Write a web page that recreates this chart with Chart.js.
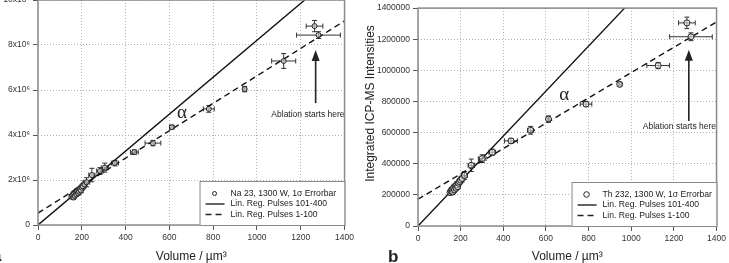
<!DOCTYPE html>
<html>
<head>
<meta charset="utf-8">
<script src="https://cdn.jsdelivr.net/npm/chart.js@4/dist/chart.umd.min.js"></script>
<style>
  body { margin: 0; width: 729px; height: 263px; background: #fff; overflow: hidden; position: relative; }
  #boxA { position: absolute; left: 0; top: -12px; width: 357px; height: 275px; }
  #boxB { position: absolute; left: 360px; top: 0; width: 369px; height: 263px; }
  .tag { position: absolute; font: bold 17px "Liberation Sans", Arial, sans-serif; line-height: 17px; color: #222; }
</style>
</head>
<body>
<div id="boxA"><canvas id="chartA"></canvas></div>
<div id="boxB"><canvas id="chartB"></canvas></div>
<div class="tag" style="left:-8px; top:247px">a</div>
<div class="tag" style="left:388px; top:248px">b</div>
<script>
// PANEL A : NA 23 
const naVolume       = [152, 158, 162, 165, 168, 172, 175, 178, 182, 185, 188, 192, 196, 200, 205, 212, 222, 246, 283, 305, 351, 440, 525, 611, 780, 944, 1122, 1263, 1281];
const naIntensity    = [1.26e6, 1.32e6, 1.22e6, 1.40e6, 1.30e6, 1.45e6, 1.36e6, 1.50e6, 1.42e6, 1.55e6, 1.48e6, 1.60e6, 1.53e6, 1.66e6, 1.72e6, 1.80e6, 1.90e6, 2.22e6, 2.40e6, 2.55e6, 2.75e6, 3.24e6, 3.64e6, 4.35e6, 5.16e6, 6.04e6, 7.29e6, 8.84e6, 8.44e6];
const naVolumeErr    = [8, 10, 8, 10, 8, 10, 8, 10, 10, 10, 8, 10, 10, 12, 12, 12, 14, 14, 15, 16, 16, 18, 36, 10, 25, 8, 55, 38, 100];
const naIntensityErr = [0.08e6, 0.1e6, 0.08e6, 0.1e6, 0.1e6, 0.1e6, 0.08e6, 0.12e6, 0.1e6, 0.1e6, 0.1e6, 0.12e6, 0.1e6, 0.12e6, 0.12e6, 0.15e6, 0.2e6, 0.3e6, 0.15e6, 0.2e6, 0.12e6, 0.1e6, 0.12e6, 0.08e6, 0.15e6, 0.12e6, 0.33e6, 0.25e6, 0.15e6];
// REGRESSION LINE END POINTS
const naFitLateX  = [0, 1218];
const naFitLateY  = [0, 10000000];
const naFitEarlyX = [0, 1400];
const naFitEarlyY = [530000, 9070000];
const naTickLabels = ['0', '2x10\u2076', '4x10\u2076', '6x10\u2076', '8x10\u2076', '10x10\u2076'];

// PANEL B : TH 232 
const thVolume       = [150, 155, 160, 163, 167, 171, 175, 178, 182, 186, 190, 195, 200, 207, 218, 250, 301, 348, 436, 528, 612, 788, 946, 1126, 1261, 1280];
const thIntensity    = [215000, 225000, 235000, 218000, 245000, 232000, 255000, 242000, 265000, 252000, 275000, 285000, 295000, 305000, 325000, 390000, 433000, 474000, 547000, 615000, 687000, 783000, 910000, 1031000, 1305000, 1216000];
const thVolumeErr    = [8, 10, 8, 8, 10, 8, 10, 8, 10, 8, 10, 10, 12, 12, 14, 15, 18, 16, 30, 14, 6, 27, 8, 53, 39, 100];
const thIntensityErr = [15000, 18000, 15000, 15000, 18000, 15000, 18000, 15000, 20000, 15000, 20000, 20000, 20000, 22000, 25000, 40000, 25000, 20000, 15000, 25000, 20000, 15000, 12000, 20000, 37000, 25000];
const thFitLateX  = [0, 969];
const thFitLateY  = [0, 1400000];
const thFitEarlyX = [0, 1400];
const thFitEarlyY = [172000, 1311000];

const FONT = '"Liberation Sans", "DejaVu Sans", Arial, sans-serif';
const INK = '#222';

function makeChart(id, cfg) {
    const points = cfg.volume.map((v, i) => ({ x: v, y: cfg.intensity[i], xErr: cfg.volumeErr[i], yErr: cfg.intensityErr[i] }));
    const lineOf = (xs, ys) => xs.map((v, i) => ({ x: v, y: ys[i] }));

    // ERROR BARS, FRAME, ANNOTATIONS AND THE BOXED LEGEND
    const decor = {
        id: 'decor',
        beforeDatasetsDraw(chart) {
            const { ctx, scales: { x, y } } = chart;
            ctx.save();
            ctx.strokeStyle = '#333';
            ctx.lineWidth = 1;
            const c = 2.5;
            points.forEach(p => {
                const px = x.getPixelForValue(p.x), py = y.getPixelForValue(p.y);
                const x0 = x.getPixelForValue(p.x - p.xErr), x1 = x.getPixelForValue(p.x + p.xErr);
                const y0 = y.getPixelForValue(p.y - p.yErr), y1 = y.getPixelForValue(p.y + p.yErr);
                ctx.beginPath();
                ctx.moveTo(x0, py); ctx.lineTo(x1, py);
                ctx.moveTo(x0, py - c); ctx.lineTo(x0, py + c);
                ctx.moveTo(x1, py - c); ctx.lineTo(x1, py + c);
                ctx.moveTo(px, y0); ctx.lineTo(px, y1);
                ctx.moveTo(px - c, y0); ctx.lineTo(px + c, y0);
                ctx.moveTo(px - c, y1); ctx.lineTo(px + c, y1);
                ctx.stroke();
            });
            ctx.restore();
        },
        afterDatasetsDraw(chart) {
            const { ctx, chartArea: a, scales: { x, y } } = chart;
            const n = cfg.notes;
            ctx.save();
            // ALPHA
            ctx.fillStyle = INK;
            ctx.font = '19px "Liberation Serif", "DejaVu Serif", serif';
            ctx.textAlign = 'center';
            ctx.textBaseline = 'middle';
            ctx.fillText('\u03b1', x.getPixelForValue(n.alpha[0]), y.getPixelForValue(n.alpha[1]));
            // ARROW
            const ax = x.getPixelForValue(n.arrowX);
            const tip = y.getPixelForValue(n.arrowTip), tail = y.getPixelForValue(n.arrowTail);
            ctx.strokeStyle = INK;
            ctx.lineWidth = 1.6;
            ctx.beginPath(); ctx.moveTo(ax, tail); ctx.lineTo(ax, tip + 8); ctx.stroke();
            ctx.beginPath(); ctx.moveTo(ax, tip); ctx.lineTo(ax - 4, tip + 11); ctx.lineTo(ax + 4, tip + 11); ctx.closePath(); ctx.fill();
            ctx.font = '8.5px ' + FONT;
            ctx.fillText('Ablation starts here', x.getPixelForValue(n.text[0]), y.getPixelForValue(n.text[1]));
            // FRAME
            ctx.strokeStyle = '#8a8a8a';
            ctx.lineWidth = 1.5;
            ctx.strokeRect(a.left, a.top, a.right - a.left, a.bottom - a.top);
            // LEGEND BOX
            const bw = 145, bh = 44;
            const bx = a.right - bw, by = a.bottom - bh;
            ctx.fillStyle = '#fff';
            ctx.fillRect(bx, by, bw, bh);
            ctx.strokeStyle = '#8a8a8a';
            ctx.lineWidth = 1;
            ctx.strokeRect(bx + 0.5, by + 0.5, bw, bh);
            const rows = [12.5, 23, 33.5];
            const ds = chart.data.datasets;
            ctx.strokeStyle = INK;
            ctx.fillStyle = INK;
            ctx.font = '8.6px ' + FONT;
            ctx.textAlign = 'left';
            ds.forEach((d, i) => {
                const ry = by + rows[i];
                if (i === 0) {
                    ctx.lineWidth = 1;
                    ctx.beginPath(); ctx.arc(bx + 15, ry, cfg.legendDot, 0, Math.PI * 2); ctx.stroke();
                } else {
                    ctx.lineWidth = 1.4;
                    ctx.setLineDash(d.borderDash || []);
                    ctx.beginPath(); ctx.moveTo(bx + 6, ry); ctx.lineTo(bx + 25, ry); ctx.stroke();
                    ctx.setLineDash([]);
                }
                ctx.fillText(d.label, bx + 31, ry);
            });
            ctx.restore();
        },
        afterDraw(chart) {
            if (!cfg.yTitle) return;
            const { ctx } = chart;
            ctx.save();
            ctx.translate(cfg.yTitle.x, cfg.yTitle.y);
            ctx.rotate(-Math.PI / 2);
            ctx.fillStyle = INK;
            ctx.font = '12px ' + FONT;
            ctx.textAlign = 'center';
            ctx.textBaseline = 'middle';
            ctx.fillText(cfg.yTitle.text, 0, 0);
            ctx.restore();
        }
    };

    const tickFont = { family: FONT, size: 8.5 };
    return new Chart(document.getElementById(id), {
        type: 'scatter',
        data: {
            datasets: [
                {
                    label: cfg.label,
                    data: points,
                    pointRadius: cfg.dot,
                    pointBorderWidth: 1,
                    pointBorderColor: INK,
                    pointBackgroundColor: 'rgba(255,255,255,0.5)'
                },
                {
                    type: 'line',
                    label: 'Lin. Reg. Pulses 101-400',
                    data: lineOf(cfg.lateX, cfg.lateY),
                    borderColor: '#111',
                    borderWidth: 1.4,
                    pointRadius: 0
                },
                {
                    type: 'line',
                    label: 'Lin. Reg. Pulses 1-100',
                    data: lineOf(cfg.earlyX, cfg.earlyY),
                    borderColor: '#111',
                    borderWidth: 1.4,
                    borderDash: [6, 4],
                    pointRadius: 0
                }
            ]
        },
        options: {
            responsive: true,
            maintainAspectRatio: false,
            animation: false,
            events: [],
            layout: { padding: cfg.padding },
            plugins: { legend: { display: false }, tooltip: { enabled: false } },
            scales: {
                x: {
                    type: 'linear', min: 0, max: 1400,
                    afterFit: s => { s.height = cfg.xAxisHeight; },
                    ticks: { stepSize: 200, padding: 3, color: '#333', font: tickFont, maxRotation: 0, autoSkip: false, callback: v => String(v) },
                    grid: { color: '#b0b0b0', tickColor: '#555', tickLength: 5 },
                    border: { display: false, dash: [1, 2] },
                    title: { display: true, text: 'Volume / \u00b5m\u00b3', color: INK, font: { family: FONT, size: 12, lineHeight: 1 }, padding: 0 }
                },
                y: {
                    type: 'linear', min: 0, max: cfg.yMax,
                    afterFit: s => { s.width = cfg.yAxisWidth; },
                    ticks: { stepSize: cfg.yStep, padding: 3, color: '#333', font: tickFont, autoSkip: false, callback: cfg.yTick },
                    grid: { color: '#b0b0b0', tickColor: '#555', tickLength: 5 },
                    border: { display: false, dash: [1, 2] }
                }
            }
        },
        plugins: [decor]
    });
}

makeChart('chartA', {
    volume: naVolume, intensity: naIntensity, volumeErr: naVolumeErr, intensityErr: naIntensityErr,
    lateX: naFitLateX, lateY: naFitLateY, earlyX: naFitEarlyX, earlyY: naFitEarlyY,
    label: 'Na 23, 1300 W, 1\u03c3 Errorbar',
    dot: 2.5, legendDot: 2,
    yMax: 10000000, yStep: 2000000,
    yTick: (v, i) => naTickLabels[i],
    padding: { top: 12, right: 11, left: 0, bottom: 0 },
    yAxisWidth: 38, xAxisHeight: 38,
    notes: { alpha: [657, 4.98e6], arrowX: 1268, arrowTip: 7.78e6, arrowTail: 5.42e6, text: [1233, 4.89e6] }
});

makeChart('chartB', {
    volume: thVolume, intensity: thIntensity, volumeErr: thVolumeErr, intensityErr: thIntensityErr,
    lateX: thFitLateX, lateY: thFitLateY, earlyX: thFitEarlyX, earlyY: thFitEarlyY,
    label: 'Th 232, 1300 W, 1\u03c3 Errorbar',
    dot: 3, legendDot: 2.8,
    yMax: 1400000, yStep: 200000,
    yTick: v => String(v),
    padding: { top: 6, right: 9, left: 0, bottom: 0 },
    yAxisWidth: 58, xAxisHeight: 37,
    yTitle: { text: 'Integrated ICP-MS Intensities', x: 10.5, y: 103.5 },
    notes: { alpha: [686, 840000], arrowX: 1270, arrowTip: 1133000, arrowTail: 675000, text: [1226, 637000] }
});
</script>
</body>
</html>
